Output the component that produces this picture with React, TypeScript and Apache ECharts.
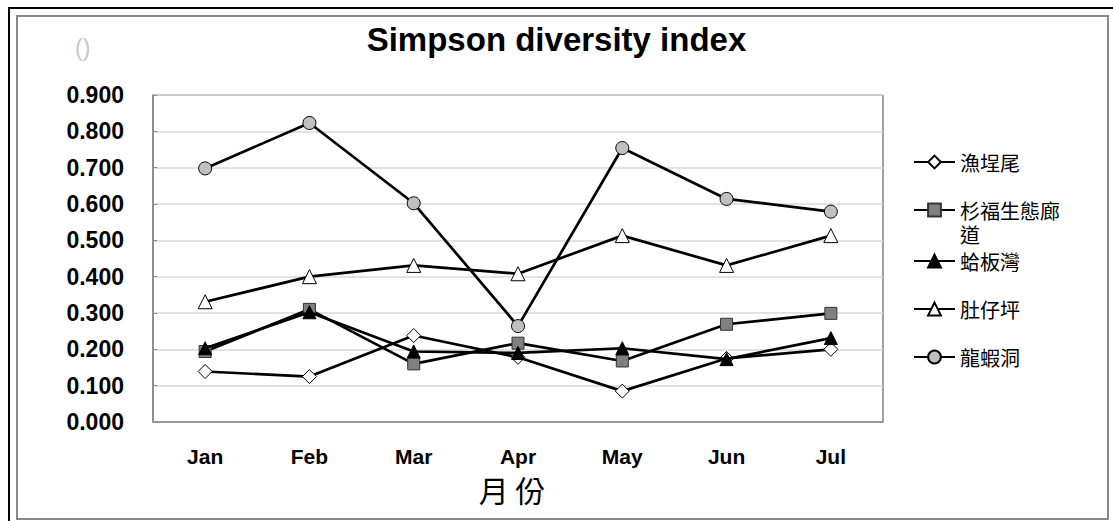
import React, { useEffect, useRef } from 'react';
import * as echarts from 'echarts';

const months = ['Jan', 'Feb', 'Mar', 'Apr', 'May', 'Jun', 'Jul'];
const seriesNames = ['漁埕尾', '杉福生態廊道', '蛤板灣', '肚仔坪', '龍蝦洞'];
const yuchengwei = [0.139, 0.125, 0.238, 0.178, 0.085, 0.175, 0.2];
const shanfu = [0.194, 0.31, 0.16, 0.217, 0.168, 0.269, 0.299];
const geban = [0.203, 0.302, 0.194, 0.19, 0.203, 0.173, 0.231];
const duzaiping = [0.331, 0.4, 0.431, 0.408, 0.513, 0.431, 0.513];
const longxia = [0.698, 0.823, 0.602, 0.264, 0.754, 0.614, 0.579];
const seriesValues = [yuchengwei, shanfu, geban, duzaiping, longxia];
const yMin = 0;
const yMax = 0.9;
const yStep = 0.1;

const symbols = ['diamond', 'rect', 'triangle', 'triangle', 'circle'];
const fills = ['#ffffff', '#808080', '#000000', '#ffffff', '#c0c0c0'];
const sizes = [14, 12, 13, 14, 13];
const legendTops = [145, 169, 244, 292, 340];

const LATIN = 'Liberation Sans, Arial, sans-serif';
const CJK = 'Noto Sans CJK TC, sans-serif';

export default function App() {
  const ref = useRef<HTMLDivElement>(null);
  useEffect(() => {
    if (!ref.current) return;
    const chart = echarts.init(ref.current, null, { renderer: 'svg' });
    const option: any = {
      animation: false,
      backgroundColor: '#ffffff',
      title: [
        {
          text: 'Simpson diversity index',
          left: 'center',
          top: 18,
          textStyle: { fontFamily: LATIN, fontWeight: 'bold', fontSize: 33, color: '#000' },
        },
        {
          text: '()',
          left: 70,
          top: 31,
          textStyle: { fontFamily: LATIN, fontWeight: 'normal', fontSize: 23, color: '#c8c8c8' },
        },
      ],
      graphic: [
        {
          type: 'rect',
          z: -10,
          shape: { x: 9, y: 8, width: 1112, height: 522 },
          style: { fill: 'none', stroke: '#000', lineWidth: 2 },
        },
        {
          type: 'rect',
          z: -10,
          shape: { x: 17, y: 16, width: 1091, height: 503 },
          style: { fill: 'none', stroke: '#888', lineWidth: 2 },
        },
      ],
      grid: {
        left: 153,
        top: 95,
        width: 730,
        height: 327,
        show: true,
        borderColor: '#444',
        borderWidth: 1,
      },
      legend: seriesNames.map((n, i) => ({
        data: [n],
        orient: 'vertical',
        left: 908,
        top: legendTops[i],
        itemWidth: 41,
        itemHeight: 16,
        selectedMode: false,
        formatter: (name: string) => (name === '杉福生態廊道' ? ' \n杉福生態廊\n道' : name),
        textStyle: {
          fontFamily: CJK,
          fontSize: 20,
          color: '#000',
          lineHeight: 24,
        },
      })),
      xAxis: {
        type: 'category',
        data: months,
        boundaryGap: true,
        axisLine: { lineStyle: { color: '#888', width: 1.5 } },
        axisTick: { show: false },
        axisLabel: { margin: 24, fontFamily: LATIN, fontWeight: 'bold', fontSize: 21, color: '#000' },
        name: '月 份',
        nameLocation: 'middle',
        nameGap: 52,
        nameTextStyle: { fontFamily: CJK, fontSize: 30, color: '#000', padding: [0, 12, 0, 0] },
      },
      yAxis: {
        type: 'value',
        min: yMin,
        max: yMax,
        interval: yStep,
        axisLine: { show: true, lineStyle: { color: '#888', width: 1.5 } },
        axisTick: { show: true, inside: true, length: 4, lineStyle: { color: '#888' } },
        splitLine: { lineStyle: { color: '#d9d9d9', width: 1.5 } },
        axisLabel: {
          margin: 29,
          fontFamily: LATIN,
          fontWeight: 'bold',
          fontSize: 23,
          color: '#000',
          formatter: (v: number) => v.toFixed(3),
        },
      },
      series: seriesNames.map((n, i) => ({
        name: n,
        type: 'line',
        data: seriesValues[i],
        symbol: symbols[i],
        symbolSize: sizes[i],
        showSymbol: true,
        lineStyle: { color: '#000', width: 2.7 },
        itemStyle: { color: fills[i], borderColor: i === 1 ? '#333' : '#000', borderWidth: 1 },
        z: 2 + i,
      })),
    };
    chart.setOption(option);
    return () => chart.dispose();
  }, []);
  return (
    <div
      ref={ref}
      style={{ position: 'absolute', left: 0, top: 0, width: 1113, height: 521 }}
    />
  );
}
